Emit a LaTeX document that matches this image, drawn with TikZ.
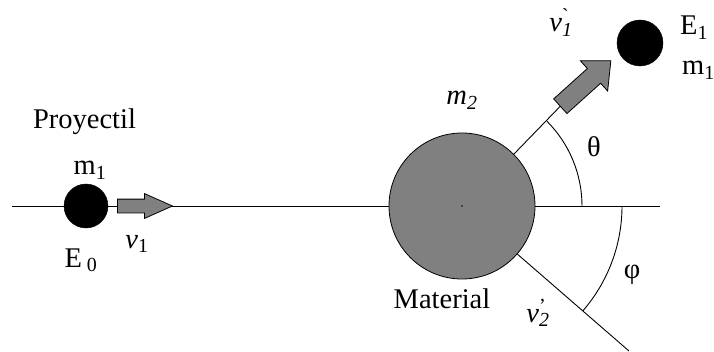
\documentclass[tikz,border=0pt]{standalone}
\usepackage{fontspec}
\setmainfont{Liberation Serif}
\usetikzlibrary{shapes.arrows}
\definecolor{colgray}{HTML}{808080}
\definecolor{colink}{HTML}{000000}
\tikzset{
  ln/.style={draw=colink, line width=0.9pt},
  ball/.style={circle, fill=colink, draw=colink, inner sep=0pt, minimum size=44pt},
  tgt/.style={circle, fill=colgray, draw=colink, line width=0.8pt, inner sep=0pt, minimum size=146pt},
  fat/.style={single arrow, fill=colgray, draw=colink, line width=0.8pt, inner xsep=0pt, minimum width=0pt, anchor=tail},
  lbl/.style={font=\fontsize{28.5}{34}\selectfont, inner sep=0pt, anchor=base},
}
\begin{document}
\begin{tikzpicture}[x=1pt, y=1pt]
  \useasboundingbox (0,0) rectangle (714,351);
  \coordinate (w) at (12,145);
  \coordinate (e) at (660,145);
  \coordinate (out) at (629,0);
  \draw[ln] (w) -- (e);
  % bodies
  \node[ball] (p0) at (86,145) {};
  \node[ball, minimum size=46pt] (p1) at (640,308) {};
  \node[tgt] (mat) at (462,145) {};
  \fill[colink] (mat.center) circle (0.8pt);
  % velocity arrows
  \node[fat, inner ysep=6.5pt, single arrow head extend=5.5pt, single arrow tip angle=48, minimum height=55pt] (v1) at (117,145) {};
  \node[fat, rotate=42, inner ysep=9.5pt, single arrow head extend=10.5pt, single arrow tip angle=84, minimum height=68pt] (v1p) at (560,244.5) {};
  \draw[ln] (mat.45) -- (v1p.tail);
  \draw[ln] (mat.-41) -- (out);
  % angles
  \draw[ln] (mat.center) ++(0:120) arc[start angle=0, end angle=45, radius=120];
  \draw[ln] (mat.center) ++(0:160) arc[start angle=0, end angle=-41, radius=160];
  % labels
  \node[lbl] (proy) at (84.5,222) {Proyectil};
  \node[lbl] (m1a) at (90,176) {m\textsubscript{1}};
  \node[lbl] (e0) at (81,84) {E\,\textsubscript{0}};
  \node[lbl] (v1l) at (137,103) {\textit{v}\textsubscript{1}};
  \node[lbl] (m2) at (462,246) {\textit{m\textsubscript{2}}};
  \node[lbl] (v1pl) at (561,319) {\textit{v}\rlap{\textsuperscript{\textasciigrave}}\textsubscript{\textit{1}}};
  \node[lbl, anchor=base west] (e1) at (680,316) {E\textsubscript{1}};
  \node[lbl, anchor=base west] (m1b) at (682,276) {m\textsubscript{1}};
  \node[lbl] (th) at (594,194) {θ};
  \node[lbl] (ph) at (632,73) {φ};
  \node[lbl] (matl) at (442,43) {Material};
  \node[lbl] (v2pl) at (538,29) {\textit{v}\rlap{\textsuperscript{\textquoteright}}\textsubscript{\textit{2}}};
\end{tikzpicture}
\end{document}
